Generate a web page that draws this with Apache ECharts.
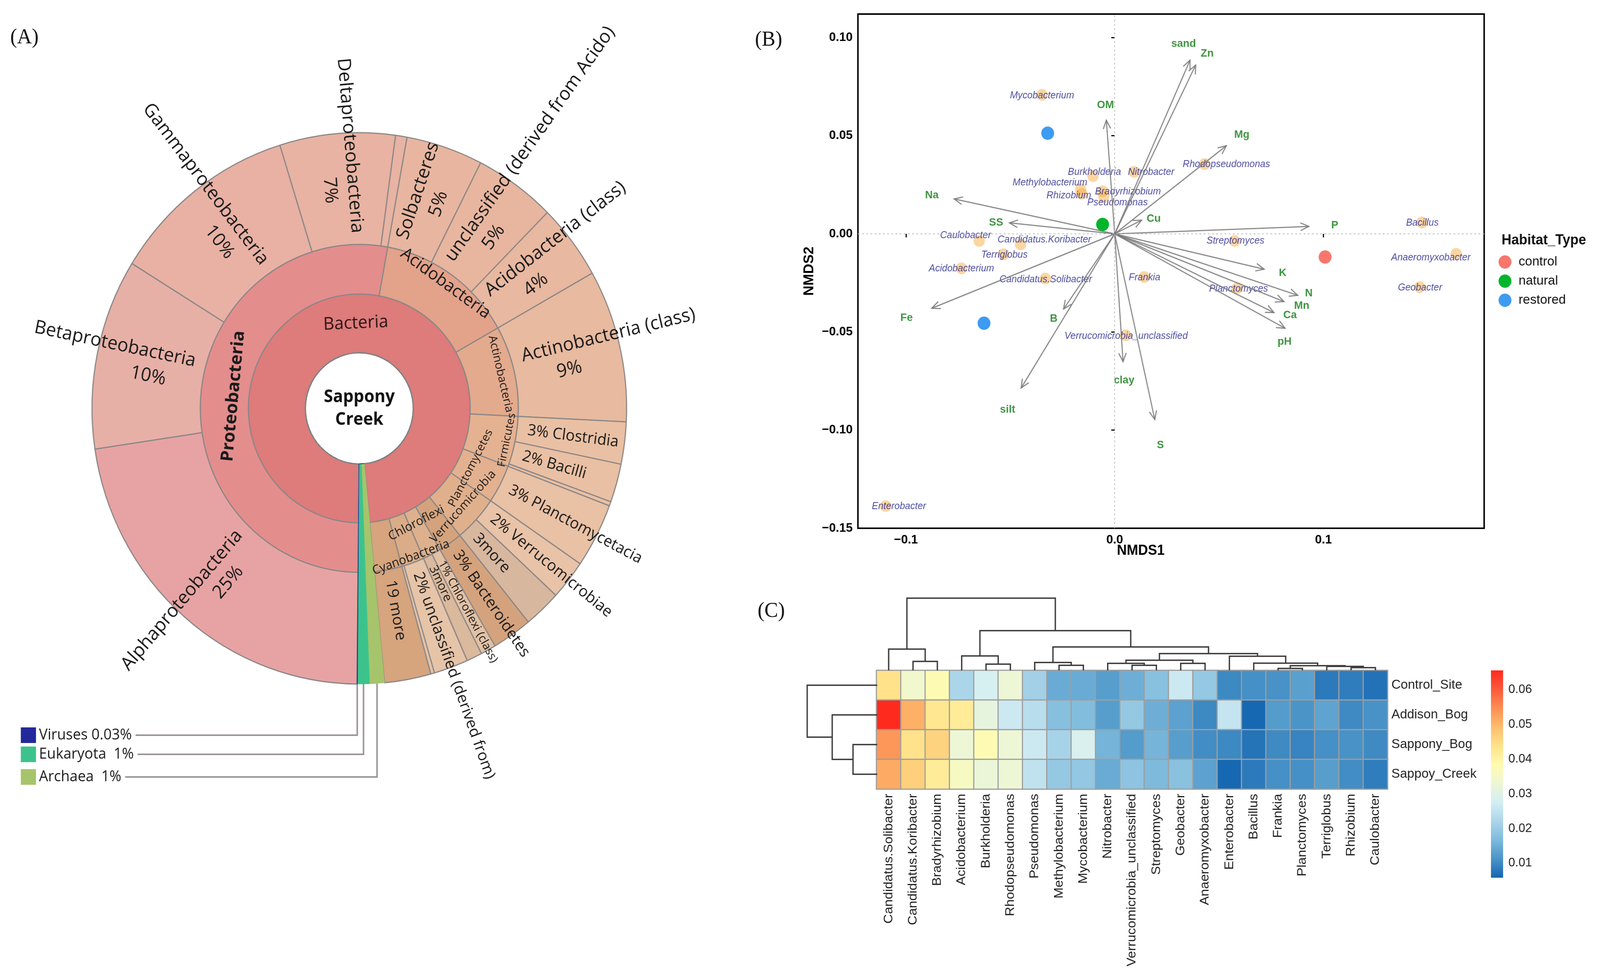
<!DOCTYPE html>
<html>
<head>
<meta charset="utf-8">
<title>Sappony Creek community</title>
<script src="https://cdn.jsdelivr.net/npm/echarts@6.0.0/dist/echarts.min.js"></script>
<style>
html,body{margin:0;padding:0;background:#ffffff;overflow:hidden;width:100%;height:100%;}
#chart{width:4226px;height:2510px;transform-origin:0 0;}
</style>
</head>
<body>
<div id="chart"></div>
<script>
// ============================ DATA ============================
// (A) Taxonomic composition of Sappony Creek (% of reads)
const phylumNames = ['Proteobacteria','Acidobacteria','Actinobacteria','Firmicutes','Planctomycetes','Verrucomicrobia','Bacteroidetes','Chloroflexi','Cyanobacteria','19 more'];
const phylumLabels = ['Proteobacteria','Acidobacteria','Actinobacteria','Firmicutes','Planctomycetes','Verrucomicrobia','','Chloroflexi','Cyanobacteria',''];
const classNames = ['Alphaproteobacteria','Betaproteobacteria','Gammaproteobacteria','Deltaproteobacteria','other Proteobacteria',
  'Solbacteres','unclassified (derived from Acido)','Acidobacteria (class)',
  'Actinobacteria (class)',
  'Clostridia','Bacilli','other Firmicutes',
  'Planctomycetacia',
  'Verrucomicrobiae','3more',
  'Bacteroidetes',
  'Chloroflexi (class)','3more',
  'unclassified (derived from)','other Cyanobacteria',
  '19 more'];
const classPhylum = [0,0,0,0,0, 1,1,1, 2, 3,3,3, 4, 5,5, 6, 7,7, 8,8, 9];
const classValues = [22.50,11.17,11.39,6.97,0.69, 4.64,4.92,4.42, 8.94, 2.47,2.25,0.25, 3.78, 2.33,2.25, 2.42, 0.92,0.94, 2.08,0.22, 2.81];
const classPct = ['25%','10%','10%','7%',null, '5%','5%','4%', '9%', '3%','2%',null, '3%', '2%','', '3%', '1%','', '2%',null, ''];
const otherDomainNames = ['Archaea','Eukaryota','Viruses'];
const otherDomainValues = [0.89, 0.72, 0.03];
const otherDomainLegend = ['Archaea  1%','Eukaryota  1%','Viruses 0.03%'];
const sampleName = 'Sappony\nCreek';

// (B) NMDS ordination
const siteHabitat = ['restored','restored','natural','control'];
const siteX = [-0.0321,-0.0626,-0.0058,0.1008];
const siteY = [0.0513,-0.0455,0.0048,-0.0118];
const habitatNames = ['control','natural','restored'];
const genusNames = ['Mycobacterium','Burkholderia','Nitrobacter','Methylobacterium','Bradyrhizobium','Rhizobium','Pseudomonas','Rhodopseudomonas','Caulobacter','Candidatus.Koribacter','Terriglobus','Acidobacterium','Candidatus.Solibacter','Frankia','Streptomyces','Planctomyces','Verrucomicrobia_unclassified','Bacillus','Anaeromyxobacter','Geobacter','Enterobacter'];
const genusX = [-0.0348,-0.0104,0.0093,-0.0163,-0.0058,-0.0158,-0.0052,0.0430,-0.0649,-0.0451,-0.0532,-0.0734,-0.0332,0.0141,0.0575,0.0586,0.0053,0.1472,0.1636,0.1461,-0.1097];
const genusY = [0.0708,0.0294,0.0316,0.0226,0.0217,0.0204,0.0190,0.0355,-0.0036,-0.0054,-0.0104,-0.0176,-0.0228,-0.0220,-0.0036,-0.0277,-0.0517,0.0058,-0.0102,-0.0272,-0.1387];
const envNames = ['sand','Zn','OM','Mg','Na','SS','Cu','P','K','N','Mn','Ca','pH','Fe','B','silt','clay','S'];
const envX = [0.0361,0.0388,-0.0040,0.0535,-0.0769,-0.0504,0.0129,0.0930,0.0716,0.0877,0.0811,0.0763,0.0816,-0.0876,-0.0245,-0.0448,0.0040,0.0192];
const envY = [0.0885,0.0860,0.0579,0.0449,0.0178,0.0056,0.0070,0.0038,-0.0180,-0.0313,-0.0345,-0.0401,-0.0481,-0.0379,-0.0383,-0.0785,-0.0651,-0.0946];
const envLabelX = [0.0330,0.0443,-0.0044,0.0609,-0.0876,-0.0568,0.0187,0.1054,0.0805,0.0930,0.0896,0.0840,0.0814,-0.0997,-0.0292,-0.0513,0.0045,0.0219];
const envLabelY = [0.0968,0.0918,0.0655,0.0505,0.0196,0.0058,0.0078,0.0044,-0.0200,-0.0303,-0.0366,-0.0414,-0.0549,-0.0429,-0.0433,-0.0896,-0.0746,-0.1076];
const nmds1Ticks = [-0.1, 0, 0.1];
const nmds2Ticks = [-0.15, -0.10, -0.05, 0, 0.05, 0.10];

// (C) Relative abundance heatmap
const heatRows = ['Control_Site','Addison_Bog','Sappony_Bog','Sappoy_Creek'];
const heatCols = ['Candidatus.Solibacter','Candidatus.Koribacter','Bradyrhizobium','Acidobacterium','Burkholderia','Rhodopseudomonas','Pseudomonas','Methylobacterium','Mycobacterium','Nitrobacter','Verrucomicrobia_unclassified','Streptomyces','Geobacter','Anaeromyxobacter','Enterobacter','Bacillus','Frankia','Planctomyces','Terriglobus','Rhizobium','Caulobacter'];
const abundControlSite = [0.0438,0.0340,0.0378,0.0220,0.0280,0.0330,0.0210,0.0145,0.0145,0.0126,0.0150,0.0178,0.0264,0.0194,0.0099,0.0107,0.0110,0.0129,0.0082,0.0085,0.0072];
const abundAddisonBog = [0.0655,0.0508,0.0427,0.0416,0.0313,0.0264,0.0237,0.0177,0.0172,0.0126,0.0194,0.0150,0.0131,0.0099,0.0253,0.0060,0.0123,0.0112,0.0134,0.0101,0.0110];
const abundSapponyBog = [0.0536,0.0438,0.0460,0.0329,0.0378,0.0329,0.0264,0.0215,0.0286,0.0158,0.0123,0.0158,0.0126,0.0104,0.0099,0.0074,0.0101,0.0093,0.0107,0.0110,0.0101];
const abundSappoyCreek = [0.0514,0.0465,0.0416,0.0356,0.0324,0.0329,0.0248,0.0194,0.0191,0.0145,0.0186,0.0167,0.0180,0.0131,0.0060,0.0082,0.0107,0.0107,0.0126,0.0104,0.0085];
// column dendrogram (hclust-style merges: negative = leaf column, positive = earlier merge)
const colMergeLeft   = [-17,-20,-19, 1,-8,-11,-5,-10,-13,-16,-7,-2, 8,-15,-4,13,-1,11,15,17];
const colMergeRight  = [-18,-21,  2, 3,-9,-12,-6,  6,-14,  4, 5,-3, 9, 10, 7,14,12,16,18,19];
const colMergeHeight = [0.027,0.038,0.056,0.065,0.070,0.070,0.086,0.097,0.097,0.100,0.110,0.124,0.140,0.196,0.200,0.232,0.295,0.325,0.550,1.000];
// row dendrogram
const rowMergeLeft   = [-3,-2,-1];
const rowMergeRight  = [-4, 1, 2];
const rowMergeHeight = [0.346,0.643,1.000];
const colorbarMin = 0.0058, colorbarMax = 0.0655;
const colorbarTicks = [0.01,0.02,0.03,0.04,0.05,0.06];

// ============================ STYLE ============================
const FONT_A = "'Open Sans','Noto Sans',sans-serif";
const FONT_B = "'Liberation Sans',Arial,sans-serif";
const SB = {cx: 949, cy: 1046, r: [143, 293, 420, 706], startClock: 180.5, pad: 28};
const phylumColors = ['#E48D8D','#E3A28A','#E3AA8D','#E5B291','#E3B190','#E0B08C','#D4A37D','#DDB18E','#DAAC88','#D6A47D'];
const classColors = ['#E7A3A3','#E7B0A6','#E8B1A4','#E8B3A2','#E8B3A3','#E8B6A0','#E8B69F','#E8B8A0','#E8BA9F','#E9C0A3','#E9C0A3','#E9C1A4','#E9C1A5','#E9C3A7','#D8B79F','#D4A37D','#E2C1A5','#DAB99C','#E6C4A8','#E6C4A8','#D6A47D'];
const otherDomainColors = ['#A6C46B','#3CC38C','#23289A'];
const phylumFont = [45,44,30,29,30,31,30,32,32,30];
const phylumWeight = ['bold','normal','normal','normal','normal','normal','normal','normal','normal','normal'];
const phylumVAlign = ['top','bottom','bottom','top','bottom','top','middle','bottom','top','middle'];
const phylumPadding = [[0,0,0,0],[0,0,14,0],[0,0,12,0],[27,0,0,0],[0,0,10,0],[0,0,0,0],[0,0,0,0],[0,0,10,0],[33,0,0,0],[0,0,0,0]];
const classFontOverride = {16: 30, 17: 32};
const habitatColors = {control: '#F8766D', natural: '#00B52B', restored: '#3D9BF2'};
const genusLabelNudge = [[0,2],[4,-10],[45,1],[-81,-17],[67,1],[-34,5],[36,16],[58,1],[-36,-14],[63,-12],[2,2],[0,1],[1,2],[1,1],[2,0],[4,2],[1,2],[1,1],[-67,10],[1,1],[35,1]];
const heatPalette = ['#1566B1','#4A94C8','#7EBADC','#ACD6EA','#D4EEF4','#EEF7D5','#FFFBAF','#FFE28A','#FDBE6E','#FC8E54','#FB5A3C','#FF2A1E'];

const _ctx = document.createElement('canvas').getContext('2d');
function textWidth(t, size, weight, family) { _ctx.font = weight + ' ' + size + 'px ' + family; return _ctx.measureText(t).width; }

// ============================ PANEL A ============================
const totalA = classValues.reduce((a, b) => a + b, 0) + otherDomainValues.reduce((a, b) => a + b, 0);
const degPer = 360 / totalA;

function classLabel(j, mid) {
  const pct = classPct[j];
  if (pct === null) return {show: false};
  const stacked = (mid < 90 || mid > 180);
  if (!stacked) {
    const fs = classFontOverride[j] || 40;
    return {formatter: (pct ? pct + ' ' : '') + classNames[j], fontSize: fs};
  }
  const fs = 48, lh = 62;
  const pw = textWidth(pct, fs, 'normal', FONT_A);
  const sp = Math.max(0, (SB.r[2] + SB.r[3]) / 2 - (SB.r[2] + SB.pad) - pw / 2);
  const flipped = mid > 180;
  const line2 = flipped ? '{p|' + pct + '}{s| }' : '{s| }{p|' + pct + '}';
  return {
    formatter: classNames[j] + '\n' + line2, fontSize: fs, lineHeight: lh,
    rich: {p: {fontSize: fs, lineHeight: lh, fontFamily: FONT_A, color: '#1a1a1a'}, s: {width: sp, fontSize: fs, lineHeight: lh}}
  };
}

const phylaNodes = phylumNames.map((p, i) => ({
  name: p,
  itemStyle: {color: phylumColors[i]},
  label: phylumLabels[i] ? {formatter: phylumLabels[i], fontSize: phylumFont[i], fontWeight: phylumWeight[i],
    verticalAlign: phylumVAlign[i], padding: phylumPadding[i]} : {show: false},
  children: []
}));
let cumA = 0;
classNames.forEach((c, j) => {
  const v = classValues[j];
  const mid = ((SB.startClock + (cumA + v / 2) * degPer) % 360 + 360) % 360;
  cumA += v;
  phylaNodes[classPhylum[j]].children.push({name: c, value: v, itemStyle: {color: classColors[j]}, label: classLabel(j, mid)});
});
const otherNodes = otherDomainNames.map((n, i) => {
  const st = {color: otherDomainColors[i], borderColor: otherDomainColors[i], borderWidth: 1};
  const leaf = {name: n, value: otherDomainValues[i], itemStyle: st, label: {show: false}};
  return {name: n, itemStyle: st, label: {show: false}, children: [{name: n, itemStyle: st, label: {show: false}, children: [leaf]}]};
});
const sunData = [{
  name: 'Sappony Creek',
  itemStyle: {color: '#ffffff', borderColor: '#1a1a1a', borderWidth: 4},
  label: {show: false},
  children: [{name: 'Bacteria', itemStyle: {color: '#DE7B7B'}, label: {formatter: 'Bacteria', fontSize: 45, color: '#2a1616'}, children: phylaNodes}].concat(otherNodes)
}];

// legend + connectors for the three thin domains
const graphicEls = [];
graphicEls.push({type: 'text', x: SB.cx, y: SB.cy, z: 100, style: {text: sampleName, fontSize: 44, fontWeight: 'bold', fontFamily: FONT_A, lineHeight: 58, fill: '#111', align: 'center', verticalAlign: 'middle'}});
let cumD = classValues.reduce((a, b) => a + b, 0);
const domainMid = otherDomainValues.map(v => { const m = SB.startClock + (cumD + v / 2) * degPer; cumD += v; return m; });
const legendRowY = {Viruses: 1883, Eukaryota: 1932, Archaea: 1990};
[2, 1, 0].forEach(i => {
  const y = legendRowY[otherDomainNames[i]];
  const txt = otherDomainLegend[i];
  graphicEls.push({type: 'rect', shape: {x: 55, y: y - 20, width: 40, height: 40}, style: {fill: otherDomainColors[i]}});
  graphicEls.push({type: 'text', x: 103, y: y, style: {text: txt, fontSize: 38, fontFamily: FONT_A, fill: '#1a1a1a', verticalAlign: 'middle', align: 'left'}});
  const tw = textWidth(txt, 38, 'normal', FONT_A);
  const a = domainMid[i] * Math.PI / 180;
  const xs = SB.cx + SB.r[3] * Math.sin(a), ys = SB.cy - SB.r[3] * Math.cos(a);
  graphicEls.push({type: 'polyline', shape: {points: [[103 + tw + 10, y], [xs, y], [xs, ys]]}, style: {stroke: '#9a9494', lineWidth: 4, fill: null}});
});
graphicEls.push({type: 'text', x: 27, y: 97, style: {text: '(A)', fontSize: 54, fontFamily: "'Liberation Serif',serif", fill: '#111', verticalAlign: 'middle'}});
graphicEls.push({type: 'text', x: 1994, y: 103, style: {text: '(B)', fontSize: 54, fontFamily: "'Liberation Serif',serif", fill: '#111', verticalAlign: 'middle'}});
graphicEls.push({type: 'text', x: 2001, y: 1566, style: {text: '(C)', fontSize: 54, fontFamily: "'Liberation Serif',serif", fill: '#111', verticalAlign: 'middle'}});
graphicEls.push({type: 'text', x: 3966, y: 616, style: {text: 'Habitat_Type', fontSize: 36, fontWeight: 'bold', fontFamily: FONT_B, fill: '#111', verticalAlign: 'middle'}});

// ============================ PANEL C helpers ============================
function dendroSegments(left, right, height) {
  const pos = [], hgt = [];
  const segs = [];
  const get = k => k < 0 ? [(-k) - 0.5, 0] : [pos[k - 1], hgt[k - 1]];
  for (let m = 0; m < left.length; m++) {
    const L = get(left[m]), R = get(right[m]);
    pos.push((L[0] + R[0]) / 2); hgt.push(height[m]);
    segs.push([L[0], L[1], R[0], R[1], height[m]]);
  }
  return segs;
}
const colSegs = dendroSegments(colMergeLeft, colMergeRight, colMergeHeight);
const rowSegs = dendroSegments(rowMergeLeft, rowMergeRight, rowMergeHeight);
const heatMatrix = [abundControlSite, abundAddisonBog, abundSapponyBog, abundSappoyCreek];
const heatData = [];
heatMatrix.forEach((row, r) => row.forEach((v, c) => heatData.push([c, r, v])));

// ============================ OPTION ============================
const hideAxis = {show: false};
const series = [];

// A: sunburst
series.push({
  type: 'sunburst', center: [SB.cx, SB.cy], radius: [0, SB.r[3]], startAngle: 90 - SB.startClock,
  sort: null, nodeClick: false, silent: true, data: sunData,
  itemStyle: {borderColor: '#8C8787', borderWidth: 3},
  label: {color: '#1a1a1a', fontFamily: FONT_A},
  emphasis: {disabled: true},
  levels: [
    {},
    {r0: 0, r: SB.r[0]},
    {r0: SB.r[0], r: SB.r[1], label: {rotate: 'tangential'}},
    {r0: SB.r[1], r: SB.r[2], label: {rotate: 'tangential'}},
    {r0: SB.r[2], r: SB.r[3], label: {rotate: 'radial', align: 'left', distance: SB.pad, fontSize: 40}}
  ]
});

// B: genus points (with zero reference lines)
series.push({
  type: 'scatter', xAxisIndex: 0, yAxisIndex: 0, z: 2, silent: true,
  symbolSize: 30, itemStyle: {color: 'rgba(247,170,60,0.6)'},
  data: genusNames.map((n, i) => ({name: n, value: [genusX[i], genusY[i]], label: {offset: genusLabelNudge[i]}})),
  label: {show: true, position: 'inside', formatter: '{b}', color: '#1E1E8A', fontStyle: 'italic', fontSize: 25, fontFamily: FONT_B},
  markLine: {silent: true, symbol: ['none', 'none'], label: {show: false}, animation: false,
    lineStyle: {color: '#BDBDBD', width: 2, type: [5, 6]}, data: [{xAxis: 0}, {yAxis: 0}]}
});
// B: environmental vectors
series.push({
  type: 'custom', xAxisIndex: 0, yAxisIndex: 0, z: 3, silent: true,
  data: envX.map((x, i) => [x, envY[i]]),
  encode: {x: 0, y: 1},
  renderItem: function (params, api) {
    const o = api.coord([0, 0]);
    const t = api.coord([api.value(0), api.value(1)]);
    const ang = Math.atan2(t[1] - o[1], t[0] - o[0]);
    const L = 24, w = 0.42;
    const p1 = [t[0] - L * Math.cos(ang - w), t[1] - L * Math.sin(ang - w)];
    const p2 = [t[0] - L * Math.cos(ang + w), t[1] - L * Math.sin(ang + w)];
    const st = {stroke: 'rgba(120,120,120,0.85)', lineWidth: 3, fill: null};
    return {type: 'group', children: [
      {type: 'line', shape: {x1: o[0], y1: o[1], x2: t[0], y2: t[1]}, style: st},
      {type: 'polyline', shape: {points: [p1, t, p2]}, style: st}
    ]};
  }
});
// B: vector labels
series.push({
  type: 'scatter', xAxisIndex: 0, yAxisIndex: 0, z: 4, silent: true,
  symbolSize: 2, itemStyle: {color: 'rgba(255,255,255,0)'},
  data: envNames.map((n, i) => ({name: n, value: [envLabelX[i], envLabelY[i]]})),
  label: {show: true, position: 'inside', formatter: '{b}', color: '#0F7A12', fontWeight: 'bold', fontSize: 28, fontFamily: FONT_B}
});
// B: sites by habitat
habitatNames.forEach(h => {
  series.push({
    type: 'scatter', name: h, xAxisIndex: 0, yAxisIndex: 0, z: 5, silent: true,
    symbolSize: 34, itemStyle: {color: habitatColors[h], opacity: 1},
    data: siteX.map((x, i) => siteHabitat[i] === h ? [x, siteY[i]] : null).filter(d => d)
  });
});

// C: heatmap
const HEAT_INDEX = series.length;
series.push({
  type: 'heatmap', xAxisIndex: 1, yAxisIndex: 1, silent: true, data: heatData,
  itemStyle: {borderColor: '#9E9E9E', borderWidth: 3},
  emphasis: {disabled: true}
});
// C: column dendrogram
series.push({
  type: 'custom', xAxisIndex: 2, yAxisIndex: 2, silent: true, data: colSegs,
  renderItem: function (params, api) {
    const xl = api.value(0), hl = api.value(1), xr = api.value(2), hr = api.value(3), h = api.value(4);
    return {type: 'polyline', shape: {points: [api.coord([xl, hl]), api.coord([xl, h]), api.coord([xr, h]), api.coord([xr, hr])]},
      style: {stroke: '#3a3a3a', lineWidth: 3.5, fill: null}};
  }
});
// C: row dendrogram
series.push({
  type: 'custom', xAxisIndex: 3, yAxisIndex: 3, silent: true, data: rowSegs,
  renderItem: function (params, api) {
    const yl = api.value(0), hl = api.value(1), yr = api.value(2), hr = api.value(3), h = api.value(4);
    return {type: 'polyline', shape: {points: [api.coord([hl, yl]), api.coord([h, yl]), api.coord([h, yr]), api.coord([hr, yr])]},
      style: {stroke: '#3a3a3a', lineWidth: 3.5, fill: null}};
  }
});
// C: colour bar
series.push({
  type: 'custom', xAxisIndex: 4, yAxisIndex: 4, silent: true, data: [[0, colorbarMin, 1, colorbarMax]],
  renderItem: function (params, api) {
    const a = api.coord([api.value(0), api.value(1)]);
    const b = api.coord([api.value(2), api.value(3)]);
    const stops = heatPalette.map((c, i) => ({offset: i / (heatPalette.length - 1), color: c}));
    return {type: 'rect', shape: {x: a[0], y: b[1], width: b[0] - a[0], height: a[1] - b[1]},
      style: {fill: new echarts.graphic.LinearGradient(0, 1, 0, 0, stops)}};
  }
});

const tickFmt1 = v => (v < 0 ? '\u2212' : '') + Math.abs(v).toFixed(1);
const tickFmt2 = v => (v < 0 ? '\u2212' : '') + Math.abs(v).toFixed(2);

const option = {
  animation: false,
  backgroundColor: '#ffffff',
  textStyle: {fontFamily: FONT_B},
  graphic: graphicEls,
  legend: {
    data: habitatNames, orient: 'vertical', left: 3958, top: 654, padding: 0,
    itemWidth: 62, itemHeight: 34, itemGap: 15, icon: 'circle', selectedMode: false,
    textStyle: {fontSize: 34, fontFamily: FONT_B, color: '#111'}
  },
  visualMap: {
    type: 'continuous', show: false, seriesIndex: HEAT_INDEX, dimension: 2,
    min: colorbarMin, max: colorbarMax, inRange: {color: heatPalette}
  },
  grid: [
    {left: 2266, top: 36, width: 1654, height: 1317, show: true, borderColor: '#000', borderWidth: 4, backgroundColor: 'rgba(0,0,0,0)', containLabel: false, outerBoundsMode: 'none'},
    {left: 2315, top: 1717, width: 1350, height: 304, containLabel: false, outerBoundsMode: 'none'},
    {left: 2315, top: 1532, width: 1350, height: 185, containLabel: false, outerBoundsMode: 'none'},
    {left: 2132, top: 1717, width: 185, height: 304, containLabel: false, outerBoundsMode: 'none'},
    {left: 3938, top: 1717, width: 32, height: 531, containLabel: false, outerBoundsMode: 'none'}
  ],
  xAxis: [
    {type: 'value', gridIndex: 0, min: -0.123, max: 0.177, splitLine: {show: false}, axisLine: {show: false},
      axisTick: {show: true, customValues: nmds1Ticks, length: 9, lineStyle: {color: '#000', width: 3}},
      axisLabel: {customValues: nmds1Ticks, formatter: tickFmt1, fontSize: 32, fontWeight: 'bold', color: '#000', margin: 14, fontFamily: FONT_B},
      name: 'NMDS1', nameLocation: 'middle', nameGap: 40, nameMoveOverlap: false,
      nameTextStyle: {fontSize: 36, fontWeight: 'bold', color: '#000', fontFamily: FONT_B, padding: [0, 160, 0, 0]}},
    {type: 'category', gridIndex: 1, data: heatCols, axisLine: {show: false}, axisTick: {show: false}, splitLine: {show: false},
      axisLabel: {rotate: 90, interval: 0, fontSize: 34, color: '#222', margin: 12, fontFamily: FONT_B}},
    Object.assign({type: 'value', gridIndex: 2, min: 0, max: heatCols.length}, hideAxis),
    Object.assign({type: 'value', gridIndex: 3, min: 0, max: 1, inverse: true}, hideAxis),
    Object.assign({type: 'value', gridIndex: 4, min: 0, max: 1}, hideAxis)
  ],
  yAxis: [
    {type: 'value', gridIndex: 0, min: -0.15, max: 0.112, splitLine: {show: false}, axisLine: {show: false},
      axisTick: {show: true, customValues: nmds2Ticks, length: 9, lineStyle: {color: '#000', width: 3}},
      axisLabel: {customValues: nmds2Ticks, formatter: tickFmt2, fontSize: 32, fontWeight: 'bold', color: '#000', margin: 14, fontFamily: FONT_B},
      name: 'NMDS2', nameLocation: 'middle', nameGap: 110, nameRotate: 90, nameMoveOverlap: false,
      nameTextStyle: {fontSize: 36, fontWeight: 'bold', color: '#000', fontFamily: FONT_B}},
    {type: 'category', gridIndex: 1, data: heatRows, inverse: true, position: 'right', axisLine: {show: false}, axisTick: {show: false}, splitLine: {show: false},
      axisLabel: {fontSize: 34, color: '#222', margin: 10, fontFamily: FONT_B}},
    Object.assign({type: 'value', gridIndex: 2, min: 0, max: 1}, hideAxis),
    Object.assign({type: 'value', gridIndex: 3, min: 0, max: heatRows.length, inverse: true}, hideAxis),
    {type: 'value', gridIndex: 4, min: colorbarMin, max: colorbarMax, position: 'right', splitLine: {show: false},
      axisLine: {show: false}, axisTick: {show: false},
      axisLabel: {customValues: colorbarTicks, formatter: v => v.toFixed(2), fontSize: 32, color: '#222', margin: 14, fontFamily: FONT_B}}
  ],
  series: series
};

// fit the 4226 x 2510 design into whatever the real viewport is
const el = document.getElementById('chart');
const vw = window.innerWidth || 4226, vh = window.innerHeight || 2510;
const sx = vw / 4226, sy = vh / 2510;
if (Math.abs(sx - 1) > 0.002 || Math.abs(sy - 1) > 0.002) {
  el.style.transform = 'scale(' + sx + ',' + sy + ')';
}
const chart = echarts.init(el, null, {renderer: 'canvas', width: 4226, height: 2510});
chart.setOption(option);
</script>
</body>
</html>
